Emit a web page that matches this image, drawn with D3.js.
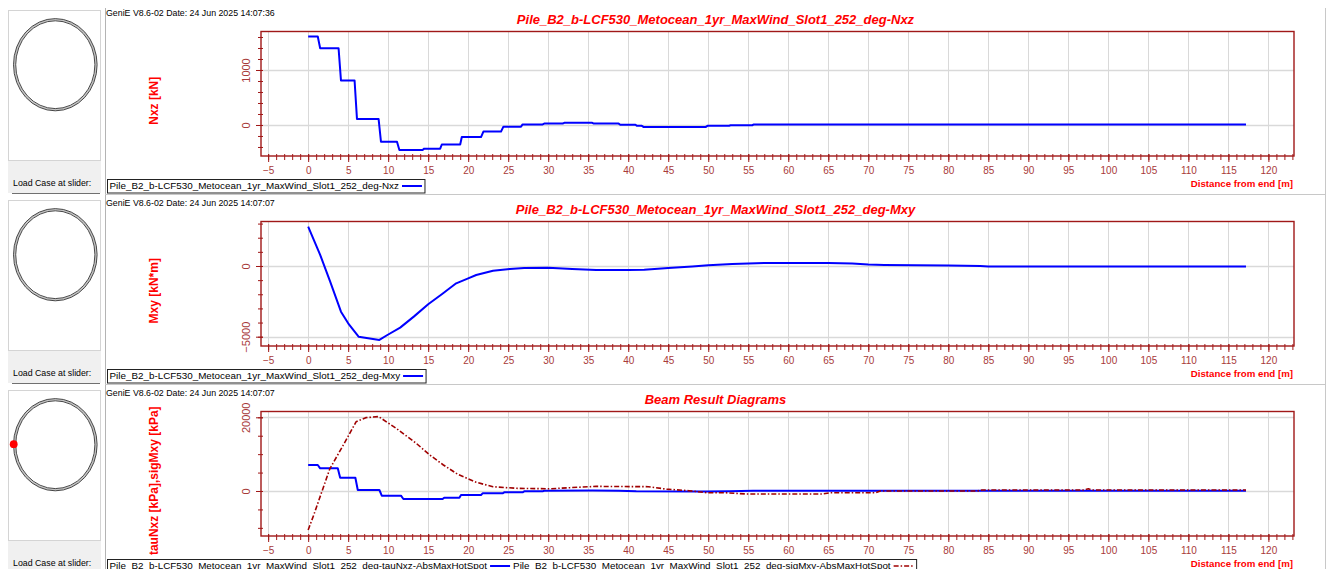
<!DOCTYPE html>
<html><head><meta charset="utf-8">
<script src="https://cdn.jsdelivr.net/npm/d3@7"></script>
<style>
html,body{margin:0;padding:0;background:#fff;overflow:hidden}
svg{display:block;font-family:"Liberation Sans",Arial,sans-serif}
</style></head><body>
<svg id="c" width="1331" height="569"></svg>
<script>
// ---- data ----
const distTicks = [-5,0,5,10,15,20,25,30,35,40,45,50,55,60,65,70,75,80,85,90,95,100,105,110,115,120];
const distMinor = [-5,-4,-3,-2,-1,0,1,2,3,4,5,6,7,8,9,10,11,12,13,14,15,16,17,18,19,20,21,22,23,24,25,26,27,28,29,30,31,32,33,34,35,36,37,38,39,40,41,42,43,44,45,46,47,48,49,50,51,52,53,54,55,56,57,58,59,60,61,62,63,64,65,66,67,68,69,70,71,72,73,74,75,76,77,78,79,80,81,82,83,84,85,86,87,88,89,90,91,92,93,94,95,96,97,98,99,100,101,102,103,104,105,106,107,108,109,110,111,112,113,114,115,116,117,118,119,120,121,122,123];

// Axial force Nxz [kN] along the pile
const nxzDist = [0,1.2,1.5,3.8,4.1,5.8,6.1,8.8,9.1,11.1,11.4,14.3,14.5,16.5,16.7,19.0,19.2,21.6,21.9,24.1,24.4,26.6,26.8,29.3,29.5,31.8,32.0,35.5,35.7,38.8,39.0,40.9,41.1,41.7,41.9,49.7,49.9,52.6,52.8,55.5,55.7,117.2];
const nxzVal  = [1610,1610,1395,1395,810,810,110,110,-305,-305,-455,-455,-430,-430,-355,-355,-220,-220,-120,-120,-30,-30,10,10,25,25,40,40,25,25,5,5,-15,-15,-35,-35,-15,-15,-5,-5,10,10];

// Bending moment Mxy [kN*m]
const mxyDist = [0,1.5,2.75,4.1,5.0,6.3,8.9,9.9,11.5,13.2,15.0,16.7,18.5,20,21,23.1,25.2,27,30,33,36,40,42,45,48,50,53,56,60,65,68,70,72,80,84,85,117.2];
const mxyVal  = [2780,780,-1110,-3230,-4055,-5000,-5230,-4880,-4360,-3580,-2710,-2000,-1225,-870,-640,-330,-210,-150,-130,-220,-280,-290,-260,-150,-30,60,140,200,220,210,180,100,70,40,0,-30,-30];

// Hot spot stresses [kPa]
const tauDist = [0,1.2,1.5,3.7,4.0,5.9,6.2,8.9,9.2,11.6,11.9,16.8,17.0,18.9,19.1,21.6,21.8,24.3,24.5,26.8,27.0,29.3,29.5,35.5,38.8,41.0,49.7,52.6,55.6,117.2];
const tauVal  = [7060,7060,6160,6160,3610,3610,270,270,-1270,-1270,-2170,-2170,-1820,-1820,-1090,-1090,-630,-630,-360,-360,-100,-100,50,150,100,-60,-150,-60,40,40];
const sigDist = [0,0.7,2.7,4.4,6.0,7.2,8.8,11.0,13.5,15.2,16.9,18.7,21.0,23.1,26.0,30.2,32.7,36.0,42.5,44.8,47.6,49.8,52.0,54.8,64.2,65.3,70.9,71.5,83.6,84.2,97.0,97.5,98.0,117.2];
const sigVal  = [-10580,-6500,6000,12500,18800,19900,20200,17000,12950,9770,7060,4530,2360,1170,730,600,900,1250,1170,500,80,-460,-460,-810,-810,-460,-460,0,0,270,270,600,270,270];

const nxzTicks = [0,1000];
const nxzMinor = [-400,-200,0,200,400,600,800,1000,1200,1400,1600];
const mxyTicks = [-5000,0];
const mxyMinor = [-5000,-4000,-3000,-2000,-1000,0,1000,2000,3000];
const stressTicks = [0,20000];
const stressMinor = [-10000,-5000,0,5000,10000,15000,20000];

const stamps = ["GeniE V8.6-02 Date: 24 Jun 2025 14:07:36","GeniE V8.6-02 Date: 24 Jun 2025 14:07:07","GeniE V8.6-02 Date: 24 Jun 2025 14:07:07"];
const titles = ["Pile_B2_b-LCF530_Metocean_1yr_MaxWind_Slot1_252_deg-Nxz","Pile_B2_b-LCF530_Metocean_1yr_MaxWind_Slot1_252_deg-Mxy","Beam Result Diagrams"];
const yLabels = ["Nxz [kN]","Mxy [kN*m]","tauNxz [kPa],sigMxy [kPa]"];
const xLabel = "Distance from end [m]";
const sliderLabel = "Load Case at slider:";

// ---- layout ----
const svg = d3.select("#c");
const AX = "#a01818", TICKTXT = "#a83a3a", GRID = "#d9d9d9";
const left = 261, right = 1294;
const x = d3.scaleLinear().domain([-5.894, 123.2]).range([left, right]);

const panels = [
  {oy:0,   dom:[-564,1700],    major:nxzTicks, minor:nxzMinor,
   series:[{d:nxzDist,v:nxzVal,color:"#0000ff",dash:null,w:2,name:"Pile_B2_b-LCF530_Metocean_1yr_MaxWind_Slot1_252_deg-Nxz"}]},
  {oy:190, dom:[-5658,3147],   major:mxyTicks, minor:mxyMinor,
   series:[{d:mxyDist,v:mxyVal,color:"#0000ff",dash:null,w:2,name:"Pile_B2_b-LCF530_Metocean_1yr_MaxWind_Slot1_252_deg-Mxy"}]},
  {oy:380, dom:[-12212,21574], major:stressTicks, minor:stressMinor,
   series:[{d:tauDist,v:tauVal,color:"#0000ff",dash:null,w:2,name:"Pile_B2_b-LCF530_Metocean_1yr_MaxWind_Slot1_252_deg-tauNxz-AbsMaxHotSpot"},
           {d:sigDist,v:sigVal,color:"#a00000",dash:"5,2,1.5,2",w:1.6,name:"Pile_B2_b-LCF530_Metocean_1yr_MaxWind_Slot1_252_deg-sigMxy-AbsMaxHotSpot"}], dot:true}
];

// vertical divider between the section sidebar and the diagrams
svg.append("line").attr("x1",105.5).attr("x2",105.5).attr("y1",8).attr("y2",569)
  .attr("stroke","#b4b4b4");
svg.append("line").attr("x1",1325.5).attr("x2",1325.5).attr("y1",8).attr("y2",569)
  .attr("stroke","#c8c8c8");

panels.forEach((p,i) => {
  const oy = p.oy;
  const top = oy + 31.5, bottom = oy + 156;
  const y = d3.scaleLinear().domain(p.dom).range([bottom, top]);
  const g = svg.append("g");

  // sidebar: cross-section view
  g.append("rect").attr("x",8).attr("y",oy+160).attr("width",93).attr("height",33).attr("fill","#f0f0f0");
  g.append("rect").attr("x",8.5).attr("y",oy+10.5).attr("width",92).attr("height",150)
    .attr("fill","#fff").attr("stroke","#d4d4d4");
  const cx = 55.3, cy = oy + 64.7;
  g.append("ellipse").attr("cx",cx).attr("cy",cy).attr("rx",40.7).attr("ry",45)
    .attr("fill","none").attr("stroke","#c4c4c4").attr("stroke-width",1.6);
  [[41.8,46.1],[39.6,43.9]].forEach(r => g.append("ellipse").attr("cx",cx).attr("cy",cy)
    .attr("rx",r[0]).attr("ry",r[1]).attr("fill","none").attr("stroke","#1a1a1a").attr("stroke-width",0.8));
  if (p.dot) g.append("circle").attr("cx",13.7).attr("cy",cy-0.5).attr("r",3.9).attr("fill","#ff0000");
  g.append("text").attr("x",13).attr("y",oy+185.5).attr("font-size","8.8px").attr("fill","#000").text(sliderLabel);
  g.append("line").attr("x1",12).attr("x2",100).attr("y1",oy+193.5).attr("y2",oy+193.5).attr("stroke","#707070");
  g.append("line").attr("x1",12).attr("x2",100).attr("y1",oy+194.5).attr("y2",oy+194.5).attr("stroke","#ffffff");

  // panel frame bottom
  g.append("line").attr("x1",105).attr("x2",1326).attr("y1",oy+194.5).attr("y2",oy+194.5).attr("stroke","#c8c8c8");

  // header stamp and title
  g.append("text").attr("x",106).attr("y",oy+15.8).attr("font-size","8.8px").attr("fill","#000").text(stamps[i]);
  g.append("text").attr("x",715.5).attr("y",oy+24).attr("text-anchor","middle")
    .attr("font-size","13px").attr("font-weight","bold").attr("font-style","italic").attr("fill","#ff0000").text(titles[i]);

  // grid
  g.append("g").selectAll("line").data(distTicks).join("line")
    .attr("x1",d=>Math.round(x(d))+0.5).attr("x2",d=>Math.round(x(d))+0.5)
    .attr("y1",top).attr("y2",bottom).attr("stroke",GRID);
  g.append("g").selectAll("line").data(p.major).join("line")
    .attr("x1",left).attr("x2",right)
    .attr("y1",d=>Math.round(y(d))+0.5).attr("y2",d=>Math.round(y(d))+0.5).attr("stroke",GRID).attr("stroke-width",1.5);

  // frame
  g.append("rect").attr("x",left).attr("y",top).attr("width",right-left).attr("height",bottom-top)
    .attr("fill","none").attr("stroke",AX).attr("stroke-width",1.4);

  // x axis: minor and major ticks
  const xMinor = g.append("g").attr("transform",`translate(0,${bottom})`)
    .call(d3.axisBottom(x).tickValues(distMinor).tickSize(4).tickFormat(""));
  const xMajor = g.append("g").attr("transform",`translate(0,${bottom})`)
    .call(d3.axisBottom(x).tickValues(distTicks).tickSize(6).tickPadding(8).tickFormat(d3.format("d")));
  [xMinor,xMajor].forEach(a => { a.select(".domain").remove(); a.selectAll("line").attr("stroke",AX).attr("y1",-2); });
  xMajor.selectAll("text").attr("fill",TICKTXT).attr("font-size","10px")
    .attr("font-family","'Liberation Sans',Arial,sans-serif").attr("dy",null).attr("y",18.3);

  // y axis: minor and major ticks, labels rotated
  const yMinor = g.append("g").attr("transform",`translate(${left},0)`)
    .call(d3.axisLeft(y).tickValues(p.minor).tickSize(3).tickFormat(""));
  const yMajor = g.append("g").attr("transform",`translate(${left},0)`)
    .call(d3.axisLeft(y).tickValues(p.major).tickSize(5).tickFormat(d3.format("d")));
  [yMinor,yMajor].forEach(a => { a.select(".domain").remove(); a.selectAll("line").attr("stroke",AX).attr("x1",2); });
  yMajor.selectAll("text").attr("fill",TICKTXT).attr("font-size","11px")
    .attr("font-family","'Liberation Sans',Arial,sans-serif")
    .attr("x",null).attr("dy",null).attr("text-anchor","middle")
    .attr("transform","translate(-10.7,0) rotate(-90)");

  // axis titles
  g.append("text").attr("transform",`translate(158,${(top+bottom)/2+7}) rotate(-90)`)
    .attr("text-anchor","middle").attr("font-size","12px").attr("font-weight","bold").attr("fill","#ff0000").text(yLabels[i]);
  g.append("text").attr("x",1293).attr("y",oy+187).attr("text-anchor","end")
    .attr("font-size","9.7px").attr("font-weight","bold").attr("fill","#ff0000").text(xLabel);

  // curves
  const clip = "clip"+i;
  g.append("clipPath").attr("id",clip).append("rect").attr("x",left).attr("y",top).attr("width",right-left).attr("height",bottom-top);
  p.series.forEach(s => {
    const pts = s.d.map((d,k)=>[d,s.v[k]]);
    g.append("path").datum(pts).attr("clip-path",`url(#${clip})`)
      .attr("d", d3.line().x(d=>x(d[0])).y(d=>y(d[1])))
      .attr("fill","none").attr("stroke",s.color).attr("stroke-width",s.w)
      .attr("stroke-dasharray",s.dash).attr("stroke-linejoin","round");
  });

  // legend box
  const lg = g.append("g");
  let cxp = 109.5;
  const ly = oy + 188.5;
  p.series.forEach(s => {
    const t = lg.append("text").attr("x",cxp).attr("y",ly).attr("font-size","9.85px").attr("fill","#000").text(s.name);
    cxp += t.node().getComputedTextLength() + 3;
    lg.append("line").attr("x1",cxp).attr("x2",cxp+20).attr("y1",ly-2.5).attr("y2",ly-2.5)
      .attr("stroke",s.color).attr("stroke-width",s.w).attr("stroke-dasharray",s.dash);
    cxp += 23;
  });
  lg.insert("rect","text").attr("x",107.5).attr("y",oy+179.5).attr("width",cxp-107.5).attr("height",13.5)
    .attr("fill","#fff").attr("stroke","#222");
});
</script></body></html>
